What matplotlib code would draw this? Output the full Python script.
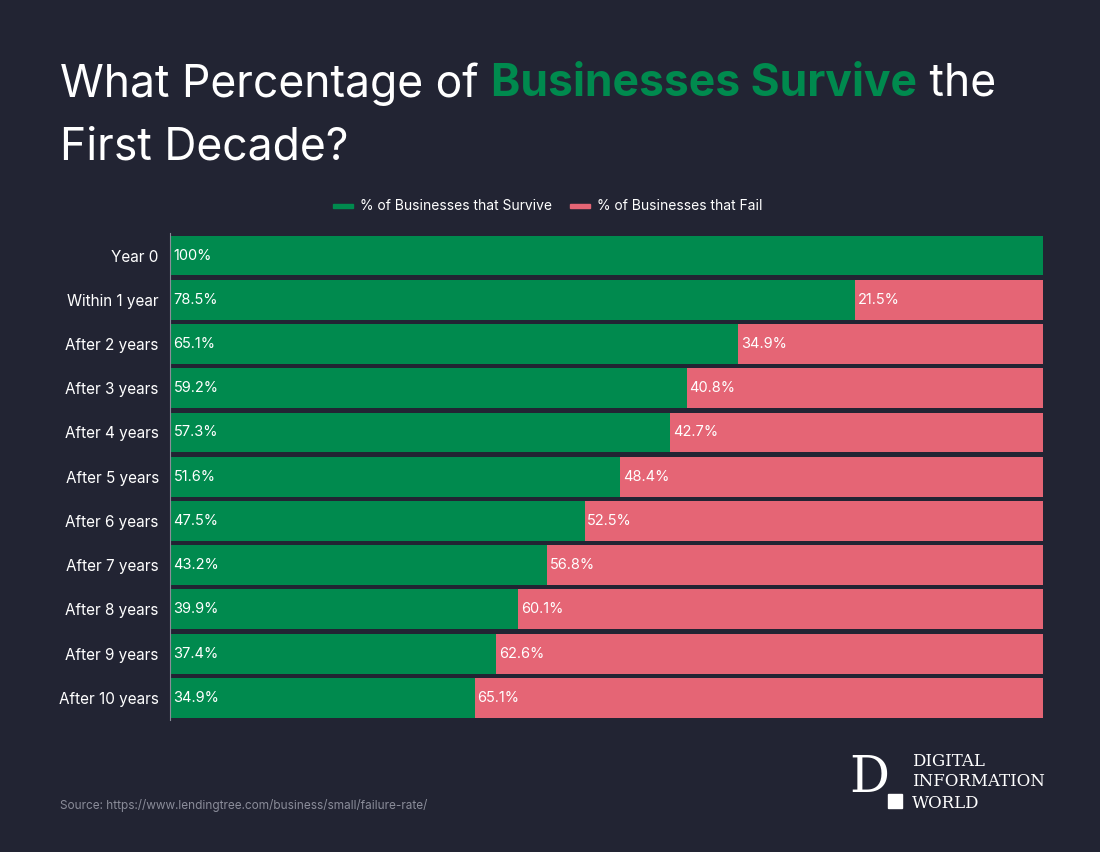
import matplotlib
matplotlib.use('Agg')
import matplotlib.pyplot as plt
from matplotlib.patches import Rectangle

categories = ['Year 0', 'Within 1 year', 'After 2 years', 'After 3 years', 'After 4 years',
              'After 5 years', 'After 6 years', 'After 7 years', 'After 8 years',
              'After 9 years', 'After 10 years']
survive = [100, 78.5, 65.1, 59.2, 57.3, 51.6, 47.5, 43.2, 39.9, 37.4, 34.9]
fail = [0, 21.5, 34.9, 40.8, 42.7, 48.4, 52.5, 56.8, 60.1, 62.6, 65.1]

BG = '#222433'
GREEN = '#008A4E'
RED = '#E56575'

plt.rcParams['font.family'] = ['Inter', 'DejaVu Sans']
fig = plt.figure(figsize=(11, 8.52), dpi=100, facecolor=BG)
ax = fig.add_axes([0.1545, 0.155, 0.7936, 0.571], facecolor=BG)

y = list(range(len(categories)))
ax.barh(y, survive, height=0.9, color=GREEN)
ax.barh(y, fail, left=survive, height=0.9, color=RED)
for i in y:
    ax.text(0.4, i, f'{survive[i]:g}%', color='white', va='center', ha='left', fontsize=10.5)
    if fail[i] > 0:
        ax.text(survive[i] + 0.3, i, f'{fail[i]:g}%', color='white', va='center', ha='left', fontsize=10.5)

ax.set_xlim(0, 100)
ax.set_ylim(len(categories) - 0.5, -0.5)
ax.set_yticks(y)
ax.set_yticklabels(categories, color='white', fontsize=11)
ax.tick_params(axis='y', length=0, pad=8)
ax.set_xticks([])
for s in ['top', 'right', 'bottom']:
    ax.spines[s].set_visible(False)
ax.spines['left'].set_color('#8a8c99')

# legend
fig.patches.append(Rectangle((333/1100, 1-208/852), 20/1100, 4/852, color=GREEN, transform=fig.transFigure))
fig.text(360/1100, 1-206/852, '% of Businesses that Survive', color='white', fontsize=10, va='center')
fig.patches.append(Rectangle((570/1100, 1-208/852), 20/1100, 4/852, color=RED, transform=fig.transFigure))
fig.text(597/1100, 1-206/852, '% of Businesses that Fail', color='white', fontsize=10, va='center')

# title with coloured part
r = fig.canvas.get_renderer()
tsize = 32
x0 = 60/1100
ty = 1-84/852
parts = [('What Percentage of ', 'white', 'normal'), ('Businesses Survive', GREEN, 'bold'), (' the', 'white', 'normal')]
x = x0
for txt, col, w in parts:
    t = fig.text(x, ty, txt, color=col, fontsize=tsize, fontweight=w, va='center')
    bb = t.get_window_extent(renderer=r)
    x += bb.width / fig.bbox.width
fig.text(x0, 1-148/852, 'First Decade?', color='white', fontsize=tsize, va='center')

fig.text(60/1100, 1-806/852, 'Source: https://www.lendingtree.com/business/small/failure-rate/',
         color='#8a8c99', fontsize=8.5, va='center')

# logo
fig.text(849/1100, 1-778/852, 'D', color='white', fontsize=36, family='DejaVu Serif', va='center')
fig.patches.append(Rectangle((888/1100, 1-808/852), 14/1100, 14/852, color='white', transform=fig.transFigure))
for k, w in enumerate(['DIGITAL', 'INFORMATION', 'WORLD']):
    fig.text(912/1100, 1-(761 + k*21)/852, w, color='white', fontsize=12, family='DejaVu Serif', va='center')

fig.savefig('out.png', facecolor=BG)
